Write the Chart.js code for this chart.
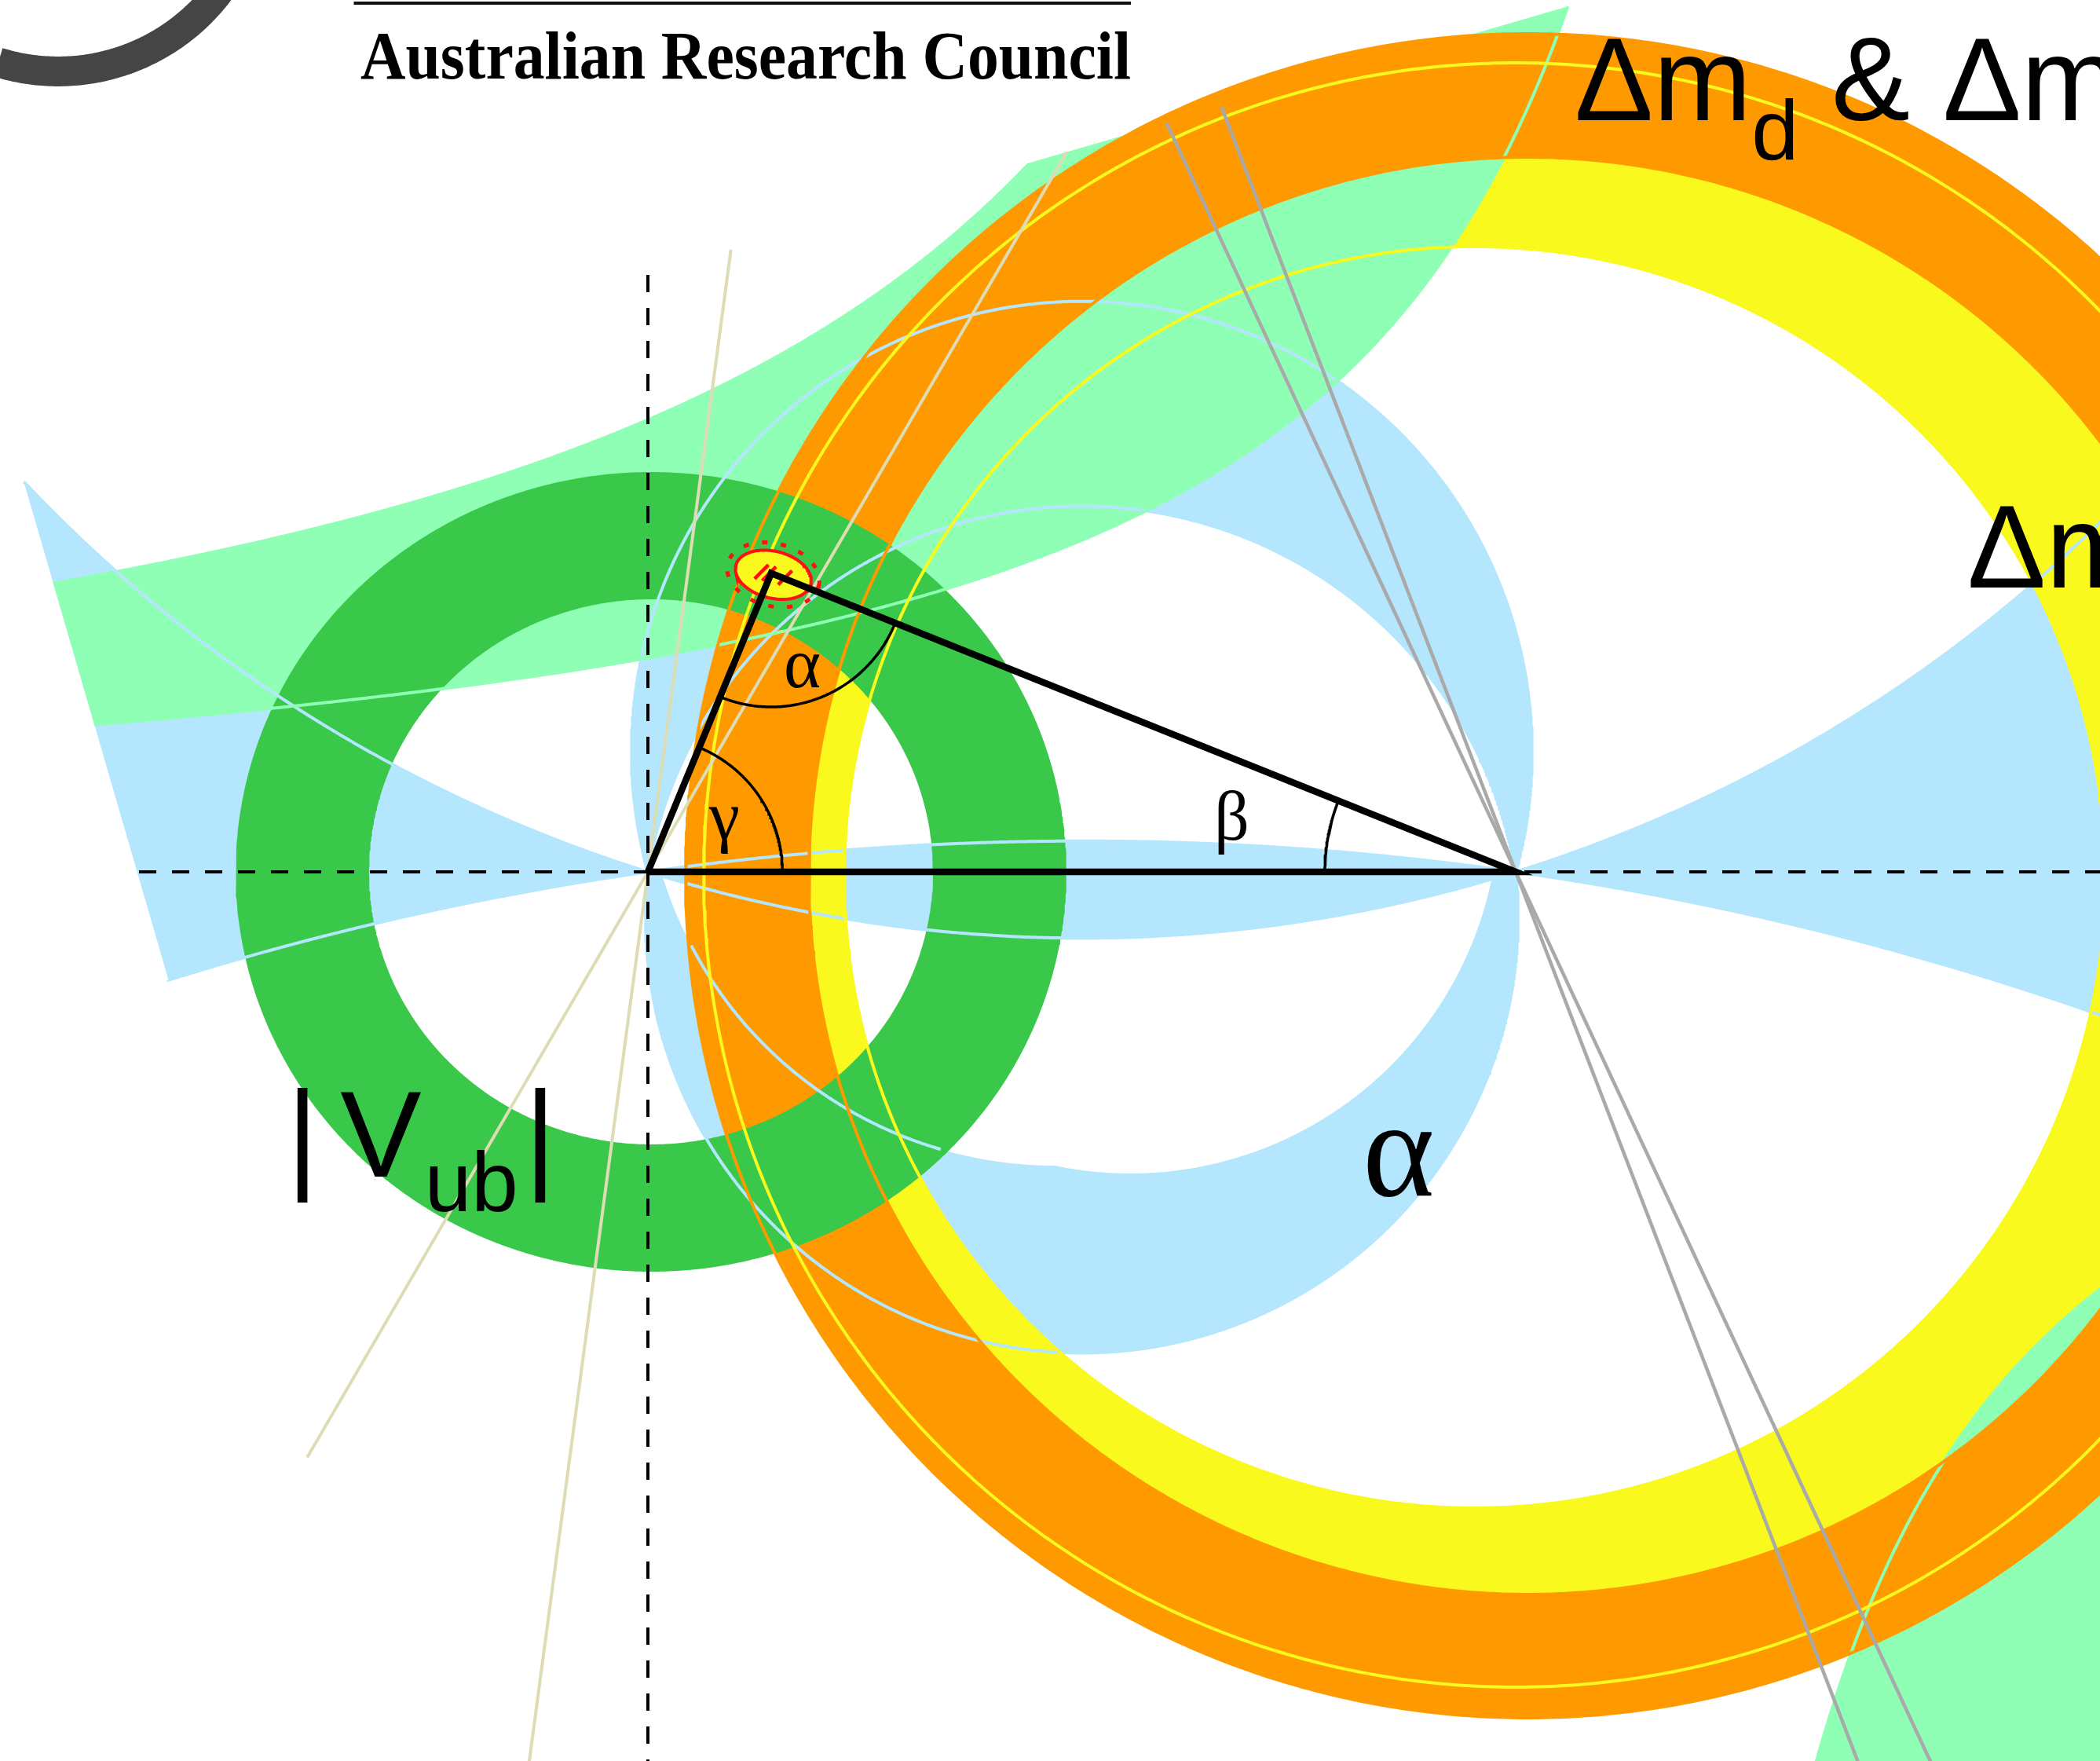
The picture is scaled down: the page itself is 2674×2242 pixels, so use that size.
<!DOCTYPE html>
<html>
<head>
<meta charset="utf-8">
<title>CKM unitarity triangle</title>
<script src="https://cdn.jsdelivr.net/npm/chart.js@4.4.1/dist/chart.umd.min.js"></script>
<style>
  html, body { margin: 0; padding: 0; background: #fff; overflow: hidden; }
  #ckm { display: block; }
</style>
</head>
<body>
<canvas id="ckm" width="2674" height="2242"></canvas>
<script>
// ---- values (rho-bar, eta-bar units) ----
const rhoRange = [-0.7466, 1.6733];
const etaRange = [-1.0244, 1.0045];

// unitarity triangle (0,0) -> apex -> (1,0)
const triangleRho = [0, 0.142, 1, 0];
const triangleEta = [0, 0.344, 0, 0];

// |Vub| ring
const vubCentre = [0.0036, 0];
const vubInnerRadii = [0.3249, 0.314];
const vubOuterRadii = [0.4787, 0.4606];

// dm_d ring (centre, inner radius, outer radius)
const dmdCentre = [1.0136, -0.0045];
const dmdRadii = [0.828, 0.9701];

// dm_s ring edges (centre rho, centre eta, radius)
const dmsInnerCircle = [0.9529, -0.0063, 0.7267];
const dmsOuterCircle = [1.0, -0.0036, 0.9357];

// alpha: circles through (0,0) and (1,0), centre (0.5, c)
const alphaWingCentres = [1.6, -3.5];
const alphaUpperCentres = [0.1385, -0.086];
const alphaLowerCentre = -0.0516;
const alphaLowerHoles = [[0.5557, 0.0778, 0.4253], [0.4697, 0.1357, 0.4742]];

// eps_K hyperbolas  eta = k / (rho0 - rho)
const epsKNorm = [0.347, 0.6355, 0.2958];
const epsKRho0 = [1.408, 1.2155, 1.0578];

// straight constraints, degrees
const gammaLineAngles = [59.8, 82.4];   // through (0,0)
const sideLineAngles = [115.0, 111.04]; // through (1,0)

// rotated frame that cuts the alpha / eps_K / line constraints
const frameCorner = [-0.7274, 0.4778];
const frameAngle = 16.2;

// fit ellipse at the apex: centre, semi axes, tilt
const apexFit = [0.1445, 0.3423, 0.0445, 0.027, -14];
const apexHalo = [0.054, 0.036];
const hatchOffsets = [-0.014, -0.005, 0.014];

// ---- styles ----
const blue = '#b4e6fd', paleGreen = '#8effb4', green = '#39c84a';
const orange = '#fe9a00', yellow = '#f9f91e', tan = '#dedcb5', gray = '#a9a9a9', red = '#ff1010';
const sans = '"Liberation Sans", Arial, sans-serif';
const serif = '"Liberation Serif", "Times New Roman", serif';

// ---- geometry helpers ----
const rad = d => d * Math.PI / 180;
const deg = r => r * 180 / Math.PI;

function arcPts(cx, cy, rx, ry, a0, a1, n, tilt) {
    const pts = [];
    const ct = Math.cos(rad(tilt || 0)), st = Math.sin(rad(tilt || 0));
    for (let i = 0; i <= n; i++) {
        const a = rad(a0 + (a1 - a0) * i / n);
        const ex = rx * Math.cos(a), ey = ry * Math.sin(a);
        pts.push({x: cx + ex * ct - ey * st, y: cy + ex * st + ey * ct});
    }
    return pts;
}

function alphaCircle(c) {
    return {c: c, r: Math.hypot(0.5, c), aO: deg(Math.atan2(-c, -0.5)), aR: deg(Math.atan2(-c, 0.5))};
}
function upperArc(k, n) { return arcPts(0.5, k.c, k.r, k.r, k.aR, k.aO < k.aR ? k.aO + 360 : k.aO, n); }
function lowerArc(k, n) { return arcPts(0.5, k.c, k.r, k.r, k.aO, k.aR + 360, n); }

function hyperbola(k, rho0, u0, u1, n) {
    const pts = [];
    for (let i = 0; i <= n; i++) {
        const u = u0 + (u1 - u0) * i / n;
        pts.push({x: u, y: k / (rho0 - u)});
    }
    return pts;
}

// frame clipping (left edge and top edge of the rotated frame)
const fa = rad(frameAngle);
const frameNormals = [[Math.cos(fa), Math.sin(fa)], [Math.sin(fa), -Math.cos(fa)]];
function side(p, n) { return (p.x - frameCorner[0]) * n[0] + (p.y - frameCorner[1]) * n[1]; }

function clipPolygon(pts) {
    let out = pts;
    for (const n of frameNormals) {
        const inp = out;
        out = [];
        for (let i = 0; i < inp.length; i++) {
            const p = inp[i], q = inp[(i + 1) % inp.length];
            const dp = side(p, n), dq = side(q, n);
            if (dp >= 0) out.push(p);
            if ((dp >= 0) !== (dq >= 0)) {
                const t = dp / (dp - dq);
                out.push({x: p.x + t * (q.x - p.x), y: p.y + t * (q.y - p.y)});
            }
        }
    }
    return out;
}

function clipSegment(p, q) {
    let t0 = 0, t1 = 1;
    for (const n of frameNormals) {
        const dp = side(p, n), dq = side(q, n);
        if (dp < 0 && dq < 0) return null;
        if (dp < 0) t0 = Math.max(t0, dp / (dp - dq));
        else if (dq < 0) t1 = Math.min(t1, dp / (dp - dq));
    }
    return t0 > t1 ? null : [t0, t1];
}

function clipPolyline(pts) {
    const out = [];
    let open = false;
    for (let i = 0; i + 1 < pts.length; i++) {
        const p = pts[i], q = pts[i + 1], s = clipSegment(p, q);
        if (!s) {
            if (open) { out.push({x: p.x, y: null}); open = false; }
            continue;
        }
        const at = t => ({x: p.x + t * (q.x - p.x), y: p.y + t * (q.y - p.y)});
        if (!open) out.push(at(s[0]));
        out.push(at(s[1]));
        open = s[1] === 1;
        if (!open) out.push({x: q.x, y: null});
    }
    return out;
}

function lowArc(h, u) {
    const d = h[2] * h[2] - (u - h[0]) * (u - h[0]);
    return d >= 0 ? h[1] - Math.sqrt(d) : Infinity;
}

function rayLine(p0, angle) {
    const d = [Math.cos(rad(angle)), Math.sin(rad(angle))];
    return clipPolyline([{x: p0[0] - 4 * d[0], y: p0[1] - 4 * d[1]},
                         {x: p0[0] + 4 * d[0], y: p0[1] + 4 * d[1]}]);
}

// ---- layers, bottom first ----
const layers = [];
function area(data, color) { layers.push({data: data, backgroundColor: color, fill: 'shape', borderWidth: 0}); }
function stroke(data, color, width, dash) {
    layers.push({data: data, borderColor: color, borderWidth: width, borderDash: dash || [], fill: false});
}

// alpha bands
const wingA = alphaCircle(alphaWingCentres[0]);
const wingB = alphaCircle(alphaWingCentres[1]);
const bLo = deg(Math.acos((rhoRange[1] + 0.5 - 0.5) / wingB.r));
const bHi = deg(Math.acos((rhoRange[0] - 0.5 - 0.5) / wingB.r));
const arcA = arcPts(0.5, wingA.c, wingA.r, wingA.r, 180, 360, 1440);
const arcB = arcPts(0.5, wingB.c, wingB.r, wingB.r, bLo, bHi, 1440);
area(clipPolygon(arcA.concat(arcB)), blue);

const upOut = alphaCircle(alphaUpperCentres[0]);
const upIn = alphaCircle(alphaUpperCentres[1]);
const upOutArc = upperArc(upOut, 720), upInArc = upperArc(upIn, 720);
area(clipPolygon(upOutArc.concat(upInArc.slice().reverse())), blue);

const lowOut = alphaCircle(alphaLowerCentre);
const lowOutArc = lowerArc(lowOut, 720);
const lowerCrescent = lowOutArc.slice();
for (let i = 0; i <= 500; i++) {
    const u = 1 - i / 500;
    lowerCrescent.push({x: u, y: Math.min(0, ...alphaLowerHoles.map(h => lowArc(h, u)))});
}
area(clipPolygon(lowerCrescent), blue);

// dm_s ring
area(arcPts(dmsOuterCircle[0], dmsOuterCircle[1], dmsOuterCircle[2], dmsOuterCircle[2], 0, 360, 720)
    .concat(arcPts(dmsInnerCircle[0], dmsInnerCircle[1], dmsInnerCircle[2], dmsInnerCircle[2], 360, 0, 720)), yellow);

// eps_K bands
const uTopLo = epsKRho0[0] - epsKNorm[0] / 1.3;
const uTopHi = epsKRho0[1] - epsKNorm[1] / 1.3;
const epsLo = hyperbola(epsKNorm[0], epsKRho0[0], -1.0, uTopLo, 900);
const epsHi = hyperbola(epsKNorm[1], epsKRho0[1], uTopHi, -1.0, 900);
area(clipPolygon(epsLo.concat(epsHi)), paleGreen);
const uBr0 = epsKRho0[2] + epsKNorm[2] / 1.3;
const epsBr = hyperbola(epsKNorm[2], epsKRho0[2], uBr0, rhoRange[1] + 0.3, 600);
area(clipPolygon(epsBr.concat([{x: rhoRange[1] + 0.3, y: etaRange[0] - 0.3}])), paleGreen);

// dm_d ring
area(arcPts(dmdCentre[0], dmdCentre[1], dmdRadii[1], dmdRadii[1], 0, 360, 720)
    .concat(arcPts(dmdCentre[0], dmdCentre[1], dmdRadii[0], dmdRadii[0], 360, 0, 720)), orange);

// |Vub| ring
area(arcPts(vubCentre[0], vubCentre[1], vubOuterRadii[0], vubOuterRadii[1], 0, 360, 720)
    .concat(arcPts(vubCentre[0], vubCentre[1], vubInnerRadii[0], vubInnerRadii[1], 360, 0, 720)), green);

// edges of the hidden bands
const edge = 4;
stroke(clipPolyline(arcA), blue, edge);
stroke(clipPolyline(arcB), blue, edge);
stroke(clipPolyline(upOutArc), blue, edge);
stroke(clipPolyline(upInArc), blue, edge);
stroke(clipPolyline(lowOutArc), blue, edge);
const hole2 = alphaLowerHoles[1];
stroke(clipPolyline(arcPts(hole2[0], hole2[1], hole2[2], hole2[2], 207.7, 253.8, 120)), blue, edge);
stroke(clipPolyline(epsLo), paleGreen, edge);
stroke(clipPolyline(epsBr), paleGreen, edge);
dmdRadii.forEach(r => stroke(arcPts(dmdCentre[0], dmdCentre[1], r, r, 0, 360, 720), orange, edge));
[dmsInnerCircle, dmsOuterCircle].forEach(c => stroke(arcPts(c[0], c[1], c[2], c[2], 0, 360, 720), yellow, edge));

// straight constraints
gammaLineAngles.forEach(a => stroke(rayLine([0, 0], a), tan, 4));
sideLineAngles.forEach(a => stroke(rayLine([1, 0], a), gray, 4.5));

// apex fit
layers.push({data: arcPts(apexFit[0], apexFit[1], apexFit[2], apexFit[3], 0, 360, 180, apexFit[4]),
             fill: 'shape', backgroundColor: yellow, borderColor: red, borderWidth: 4});
stroke(arcPts(apexFit[0], apexFit[1], apexHalo[0], apexHalo[1], 0, 360, 180, apexFit[4]), red, 5, [7, 17]);
const hatch = [];
const tc = Math.cos(rad(apexFit[4])), ts = Math.sin(rad(apexFit[4]));
hatchOffsets.forEach(k => {
    const cx = apexFit[0] + k * tc, cy = apexFit[1] + k * ts;
    hatch.push({x: cx - 0.008, y: cy - 0.008}, {x: cx + 0.008, y: cy + 0.008}, {x: cx, y: null});
});
stroke(hatch, red, 4.5);

// triangle and its angles
const triangle = triangleRho.map((r, i) => ({x: r, y: triangleEta[i]}));
layers.push({data: triangle, borderColor: '#000', borderWidth: 8.5, fill: false, borderJoinStyle: 'miter'});
const apexRho = triangleRho[1], apexEta = triangleEta[1];
const gammaDeg = deg(Math.atan2(apexEta, apexRho));
const betaDeg = deg(Math.atan2(apexEta, 1 - apexRho));
stroke(arcPts(0, 0, 0.155, 0.155, 0, gammaDeg, 120), '#000', 3.5);
stroke(arcPts(apexRho, apexEta, 0.154, 0.154, 180 + gammaDeg, 360 - betaDeg, 120), '#000', 3.5);
stroke(arcPts(1, 0, 0.22, 0.22, 180 - betaDeg, 180, 60), '#000', 3.5);

// dashed axes
stroke([{x: -0.5864, y: 0}, {x: rhoRange[1], y: 0}], '#000', 4, [22, 20]);
stroke([{x: 0, y: 0.6878}, {x: 0, y: etaRange[0]}], '#000', 4, [22, 20]);

// logo swoosh and rule
stroke(arcPts(-0.6796, 1.1548, 0.2326, 0.2326, 180, 360, 240), '#454545', 38);
stroke([{x: -0.3389, y: 1.0009}, {x: 0.5566, y: 1.0009}], '#111', 4);

layers.forEach((l, i) => Object.assign(l, {
    order: layers.length - i, pointRadius: 0, pointHoverRadius: 0, pointHitRadius: 0,
    tension: 0, spanGaps: false, borderCapStyle: 'butt'
}));

// ---- text ----
const labels = [
    {at: [-0.3312, 0.914], font: serif, maxWidth: 981,
     runs: [{t: 'Australian Research Council', size: 86, weight: 'bold'}]},
    {at: [1.0679, 0.8661], font: sans,
     runs: [{t: 'Δm', size: 150}, {t: 'd', size: 108, drop: 50}, {t: ' & Δm', size: 150}, {t: 's', size: 108, drop: 50}]},
    {at: [1.5204, 0.3276], font: sans, runs: [{t: 'Δm', size: 150}, {t: 's', size: 108, drop: 50}]},
    {at: [-0.4163, -0.3511], font: sans,
     runs: [{t: '|', size: 155}, {t: 'V', size: 155, gap: 28}, {t: 'ub', size: 107, drop: 44, gap: 4}, {t: '|', size: 155, gap: 8}]},
    {at: [0.8235, -0.3729], font: serif, runs: [{t: 'α', size: 175}]},
    {at: [0.1566, 0.2127], font: serif, runs: [{t: 'α', size: 90}]},
    {at: [0.0706, 0.038], font: serif, runs: [{t: 'γ', size: 88}]},
    {at: [0.6525, 0.0371], font: serif, runs: [{t: 'β', size: 88}]}
];

const labelPlugin = {
    id: 'labels',
    afterDatasetsDraw(chart) {
        const {ctx} = chart;
        const xs = chart.scales.x, ys = chart.scales.y;
        labels.forEach(lab => {
            let px = xs.getPixelForValue(lab.at[0]);
            const py = ys.getPixelForValue(lab.at[1]);
            ctx.save();
            ctx.fillStyle = '#000';
            ctx.textAlign = 'left';
            ctx.textBaseline = 'alphabetic';
            lab.runs.forEach(run => {
                ctx.font = (run.weight || 'normal') + ' ' + run.size + 'px ' + lab.font;
                px += run.gap || 0;
                let w = ctx.measureText(run.t).width;
                if (lab.maxWidth && w > lab.maxWidth) {
                    ctx.fillText(run.t, px, py + (run.drop || 0), lab.maxWidth);
                    w = lab.maxWidth;
                } else {
                    ctx.fillText(run.t, px, py + (run.drop || 0));
                }
                px += w;
            });
            ctx.restore();
        });
    }
};

new Chart(document.getElementById('ckm'), {
    type: 'line',
    data: {datasets: layers},
    options: {
        responsive: false,
        animation: false,
        devicePixelRatio: 1,
        events: [],
        layout: {padding: 0},
        scales: {
            x: {type: 'linear', min: rhoRange[0], max: rhoRange[1], display: false},
            y: {type: 'linear', min: etaRange[0], max: etaRange[1], display: false}
        },
        plugins: {
            legend: {display: false},
            tooltip: {enabled: false},
            colors: {enabled: false},
            filler: {propagate: false}
        }
    },
    plugins: [labelPlugin]
});
</script>
</body>
</html>
